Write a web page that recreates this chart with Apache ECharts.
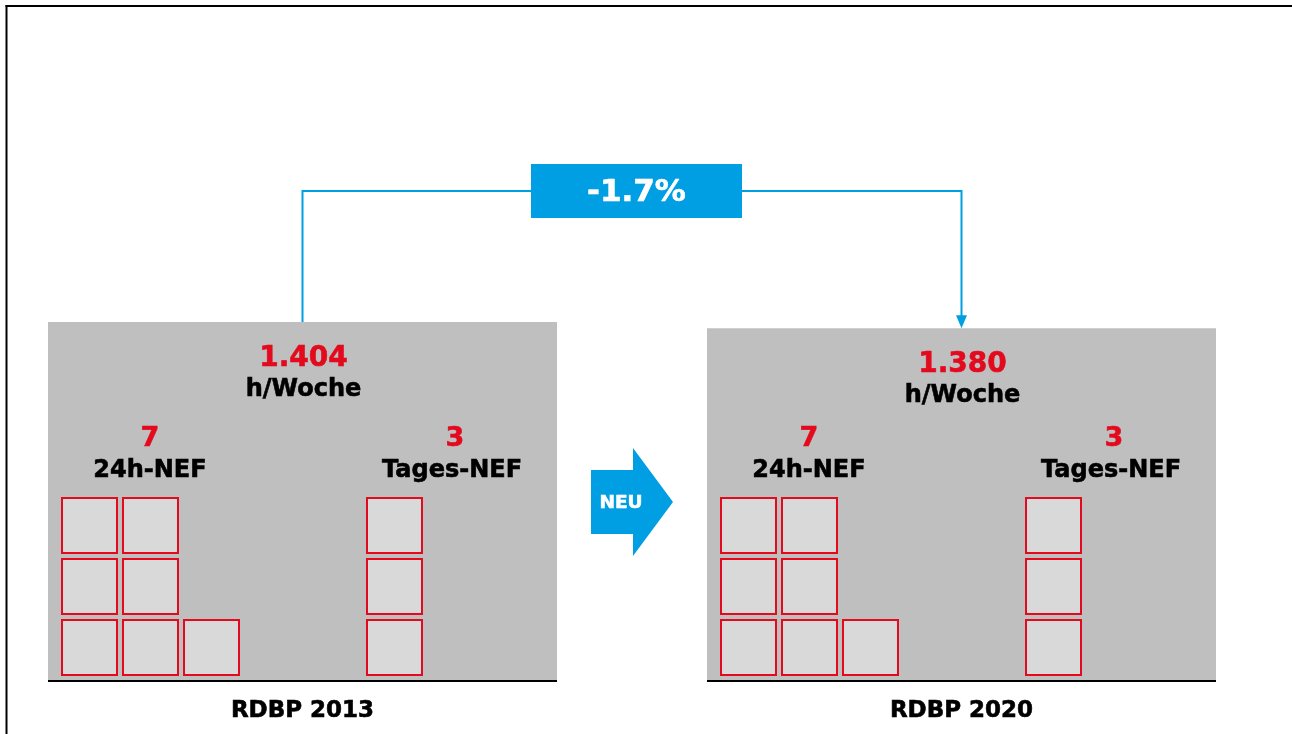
<!DOCTYPE html>
<html>
<head>
<meta charset="utf-8">
<style>
  html, body { margin: 0; padding: 0; background: #ffffff; }
  #chart { width: 1292px; height: 734px; }
</style>
<script src="https://cdn.jsdelivr.net/npm/echarts@6/dist/echarts.min.js"></script>
</head>
<body>
<div id="chart"></div>
<script>
// ---- data ----
const periods = ['RDBP 2013', 'RDBP 2020'];
const hoursPerWeek = [1404, 1380];
const nef24h = [7, 7];
const nefTages = [3, 3];
const changeLabel = '-1.7%';
const unitLabel = 'h/Woche';
const nefLabels = ['24h-NEF', 'Tages-NEF'];
const arrowLabel = 'NEU';

// ---- styles ----
const FONT = '"DejaVu Sans", Verdana, sans-serif';
const RED = '#E30A1E';
const BLUE = '#009FE3';
const PANEL = '#BFBFBF';
const CELL = '#D9D9D9';
const PANEL_W = 509;

function fmtDE(n) {
  return String(n).replace(/\B(?=(\d{3})+(?!\d))/g, '.');
}
function txt(x, y, text, size, color) {
  return {
    type: 'text',
    style: {
      x: x, y: y, text: text,
      font: 'bold ' + size + 'px ' + FONT,
      fill: color, stroke: color, lineWidth: 0.6,
      align: 'center', verticalAlign: 'middle'
    }
  };
}

const chart = echarts.init(document.getElementById('chart'), null, { renderer: 'canvas' });

function renderPanel(params, api) {
  const i = api.value(0);
  const hours = api.value(1);
  const n24 = api.value(2);
  const nT = api.value(3);
  const top = api.coord([i, hours]);
  const base = api.coord([i, 0]);
  const cx = base[0];
  const left = cx - PANEL_W / 2;
  const bottom = base[1];
  const children = [];
  children.push({
    type: 'line',
    shape: { x1: left, y1: bottom, x2: left + PANEL_W, y2: bottom },
    style: { stroke: '#000', lineWidth: 2 }
  });
  children.push(txt(cx + 1, top[1] + 37, fmtDE(hours), 28, RED));
  children.push(txt(cx + 1, top[1] + 67.5, unitLabel, 24, '#000'));
  children.push(txt(left + 102, bottom - 242, String(n24), 27, RED));
  children.push(txt(left + 102, bottom - 210, nefLabels[0], 24, '#000'));
  children.push(txt(left + 407, bottom - 242, String(nT), 27, RED));
  children.push(txt(left + 404, bottom - 210, nefLabels[1], 24, '#000'));
  const cell = (x, y) => ({
    type: 'rect',
    shape: { x: x, y: y, width: 55, height: 55 },
    style: { fill: CELL, stroke: RED, lineWidth: 2 }
  });
  for (let k = 0; k < n24; k++) {
    const col = Math.floor(k / 3), row = k % 3;
    children.push(cell(left + 14 + col * 61, bottom - 61 - row * 61));
  }
  for (let k = 0; k < nT; k++) {
    const col = Math.floor(k / 3), row = k % 3;
    children.push(cell(left + 319 + col * 61, bottom - 61 - row * 61));
  }
  return { type: 'group', children: children };
}

function renderChange(params, api) {
  const p0 = api.coord([api.value(0), api.value(1)]);
  const p1 = api.coord([api.value(2), api.value(3)]);
  const b0 = api.coord([api.value(0), 0]);
  const yLine = p0[1] - 131;
  const mx = (p0[0] + p1[0]) / 2;
  const bx = mx + 4.5;
  const bw = 211, bh = 54;
  const lineStyle = { stroke: BLUE, lineWidth: 2, fill: null };
  const ay = b0[1] - 179;
  return {
    type: 'group',
    children: [
      { type: 'polyline', shape: { points: [[p0[0], p0[1]], [p0[0], yLine], [bx - bw / 2, yLine]] }, style: lineStyle },
      { type: 'polyline', shape: { points: [[bx + bw / 2, yLine], [p1[0], yLine], [p1[0], p1[1] - 12]] }, style: lineStyle },
      { type: 'polygon', shape: { points: [[p1[0] - 5.5, p1[1] - 13], [p1[0] + 5.5, p1[1] - 13], [p1[0], p1[1]]] }, style: { fill: BLUE } },
      { type: 'rect', shape: { x: bx - bw / 2, y: yLine - bh / 2, width: bw, height: bh }, style: { fill: BLUE } },
      txt(bx, yLine + 2, changeLabel, 31, '#fff'),
      { type: 'polygon', shape: { points: [
          [mx - 41, ay - 32], [mx + 1, ay - 32], [mx + 1, ay - 54], [mx + 41, ay],
          [mx + 1, ay + 54], [mx + 1, ay + 32], [mx - 41, ay + 32]
        ] }, style: { fill: BLUE } },
      txt(mx - 11, ay + 1, arrowLabel, 18.5, '#fff')
    ]
  };
}

const option = {
  animation: false,
  backgroundColor: '#ffffff',
  graphic: [
    { type: 'line', shape: { x1: 5.5, y1: 6, x2: 1292, y2: 6 }, style: { stroke: '#000', lineWidth: 2 } },
    { type: 'line', shape: { x1: 6.5, y1: 5, x2: 6.5, y2: 734 }, style: { stroke: '#000', lineWidth: 2 } }
  ],
  grid: { left: 302.5, right: 330.5, top: 169.6, bottom: 53, containLabel: false },
  xAxis: {
    type: 'category',
    data: periods,
    boundaryGap: false,
    axisLine: { show: false },
    axisTick: { show: false },
    splitLine: { show: false },
    axisLabel: {
      margin: 19,
      fontFamily: FONT,
      fontWeight: 'bold',
      fontSize: 23,
      color: '#000',
      textBorderColor: '#000',
      textBorderWidth: 0.6
    }
  },
  yAxis: {
    type: 'value',
    min: 0,
    max: 2000,
    show: false
  },
  series: [
    {
      type: 'bar',
      data: hoursPerWeek,
      barWidth: PANEL_W,
      itemStyle: { color: PANEL },
      z: 1
    },
    {
      type: 'custom',
      renderItem: renderPanel,
      data: periods.map((p, i) => [i, hoursPerWeek[i], nef24h[i], nefTages[i]]),
      encode: { x: 0, y: 1 },
      z: 2
    },
    {
      type: 'custom',
      renderItem: renderChange,
      data: [[0, hoursPerWeek[0], 1, hoursPerWeek[1]]],
      encode: { x: [0, 2], y: [1, 3] },
      z: 3
    }
  ]
};
chart.setOption(option);
</script>
</body>
</html>
